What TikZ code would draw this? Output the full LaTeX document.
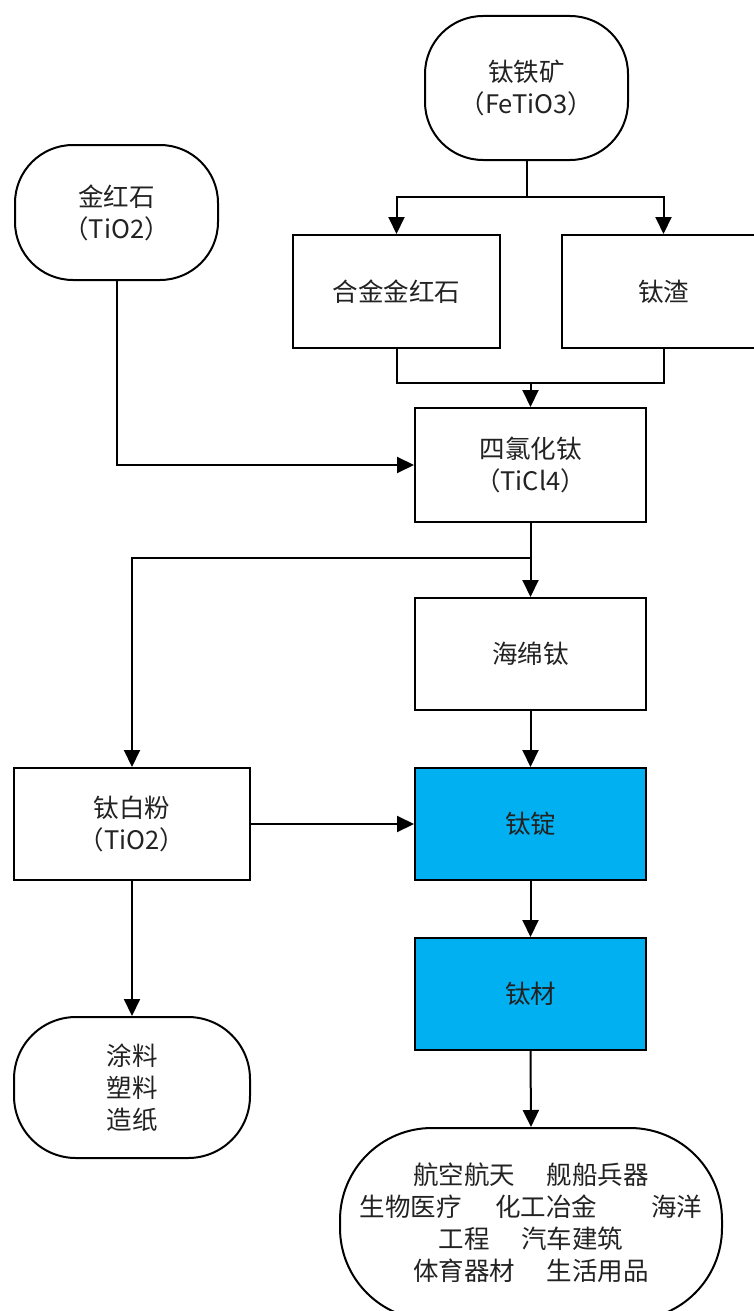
\documentclass[tikz,border=0pt]{standalone}
\usepackage{fontspec}
\newfontfamily\cjk{Noto Sans CJK SC}
\usetikzlibrary{arrows.meta}
\definecolor{tiblue}{HTML}{00B0F0}
\definecolor{txt}{HTML}{222222}
\begin{document}
\begin{tikzpicture}[x=1pt,y=-1pt,
  base/.style={draw=black,line width=2pt,align=center,text=txt,inner sep=0pt,
    font=\cjk\fontsize{25.5}{32}\selectfont},
  box/.style={base,rectangle},
  term/.style={base,rectangle,rounded corners=58pt},
  blue/.style={box,fill=tiblue},
  arr/.style={line width=2pt,-{Triangle[length=17pt,width=16pt]}},
  ln/.style={line width=2pt}]
\useasboundingbox (0,0) rectangle (753,1311);
\node[term,minimum width=203pt,minimum height=144pt] (a) at (526.5,88) {钛铁矿\\（FeTiO3）};
\node[term,minimum width=203pt,minimum height=135pt] (b) at (116.5,212.5) {金红石\\（TiO2）};
\node[box,minimum width=207pt,minimum height=113pt] (c) at (396.5,291.5) {合金金红石};
\node[box,minimum width=203pt,minimum height=113pt] (d) at (663.5,291.5) {钛渣};
\node[box,minimum width=231pt,minimum height=114pt] (e) at (530.5,465) {四氯化钛\\（TiCl4）};
\node[box,minimum width=231pt,minimum height=112pt] (f) at (530.5,654) {海绵钛};
\node[box,minimum width=236pt,minimum height=112pt] (g) at (132,824) {钛白粉\\（TiO2）};
\node[blue,minimum width=231pt,minimum height=112pt] (h) at (530.5,824) {钛锭};
\node[blue,minimum width=231pt,minimum height=112pt] (i) at (530.5,994) {钛材};
\node[base,rectangle,rounded corners=62pt,minimum width=236pt,minimum height=141pt] (j) at (132,1087.5) {涂料\\塑料\\造纸};
\node[base,rectangle,rounded corners=92pt,minimum width=382pt,minimum height=192pt] (k) at (531,1224) {};
\node[font=\cjk\fontsize{25.5}{32}\selectfont,text=txt,align=center,anchor=north] (kt) at (531,1159)
  {航空航天\hspace{32pt}舰船兵器\\生物医疗\hspace{34pt}化工冶金\hspace{54pt}海洋\\工程\hspace{32pt}汽车建筑\\体育器材\hspace{32pt}生活用品};
\coordinate (s1) at (526.5,197);
\coordinate (m1) at (530.5,383);
\coordinate (s2) at (530.5,558);
\draw[ln] (a.south) -- (s1);
\draw[arr] (s1) -| (c.north);
\draw[arr] (s1) -| (d.north);
\draw[ln] (c.south) |- (m1) -| (d.south);
\draw[arr] (m1) -- (e.north);
\draw[arr] (b.south) |- (e.west);
\draw[arr] (e.south) -- (f.north);
\draw[arr] (s2) -| (g.north);
\draw[arr] (f.south) -- (h.north);
\draw[arr] (g.east) -- (h.west);
\draw[arr] (h.south) -- (i.north);
\draw[arr] (g.south) -- (j.north);
\draw[arr] (i.south) -- (k.north);
\end{tikzpicture}
\end{document}
